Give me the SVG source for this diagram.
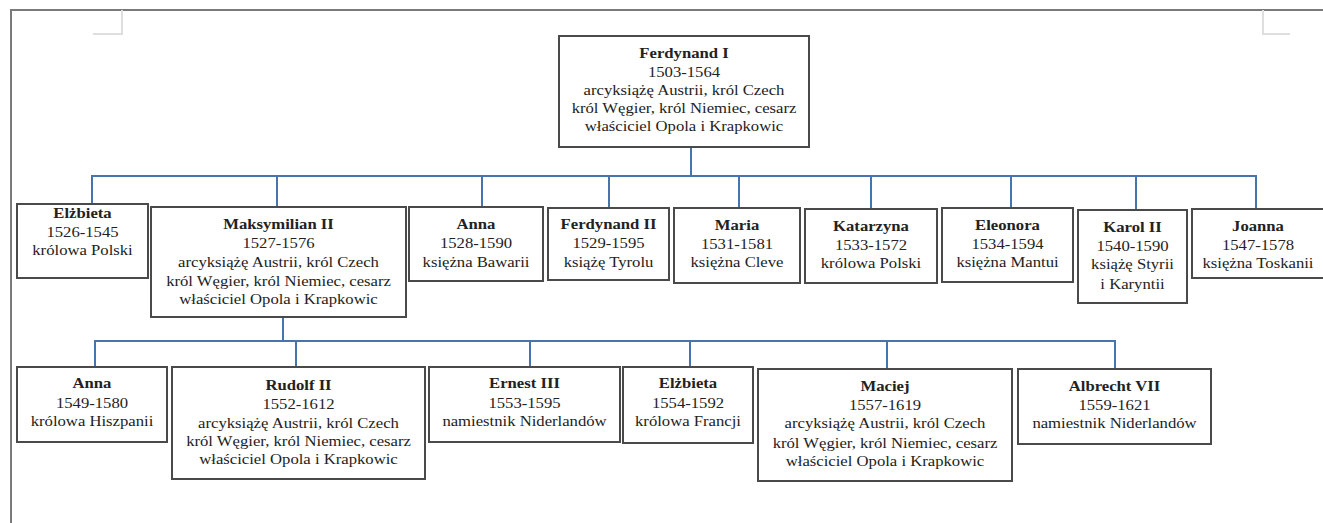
<svg xmlns="http://www.w3.org/2000/svg" width="1323" height="523" viewBox="0 0 1323 523">
<style>
.box{fill:#fff;stroke:#4a4a4a;stroke-width:2}
.conn{fill:none;stroke:#4675ad;stroke-width:2}
.frame{fill:none;stroke:#7a7a7a;stroke-width:2}
.mark{fill:none;stroke:#dedede;stroke-width:2}
text{font-family:"Liberation Serif","Times New Roman",serif;font-size:14.5px;fill:#222;text-anchor:middle}
.n{font-weight:bold}
</style>
<rect width="1323" height="523" fill="#fff"/>
<g id="frame">
<path class="frame" d="M11,523 V10 H1323"/>
<path class="mark" d="M122,10 V34 H93"/>
<path class="mark" d="M1263,10 V34 H1290"/>
</g>
<g id="connectors">
<path class="conn" d="M691,147 V176 M92,204 V176 H1256 V209 M277,176 V207 M482,176 V207 M609,176 V208 M739,176 V208 M871,176 V209 M1011,176 V208 M1136,176 V210"/>
<path class="conn" d="M283,317 V341 M95,367 V341 H1115 V369 M296,341 V367 M530,341 V367 M690,341 V367 M887,341 V369"/>
</g>
<g id="ferdynand1">
<rect class="box" x="559" y="36" width="250" height="111"/>
<g transform="translate(684,0) scale(1.15,1)">
<text class="n" x="0" y="58">Ferdynand I</text>
<text x="0" y="77">1503-1564</text>
<text x="0" y="95">arcyksiążę Austrii, król Czech</text>
<text x="0" y="113">król Węgier, król Niemiec, cesarz</text>
<text x="0" y="131">właściciel Opola i Krapkowic</text>
</g>
</g>
<g id="elzbieta1">
<rect class="box" x="17" y="204" width="131" height="74"/>
<g transform="translate(82.5,0) scale(1.15,1)">
<text class="n" x="0" y="218">Elżbieta</text>
<text x="0" y="237">1526-1545</text>
<text x="0" y="255">królowa Polski</text>
</g>
</g>
<g id="maksymilian2">
<rect class="box" x="151" y="207" width="255" height="110"/>
<g transform="translate(278.5,0) scale(1.15,1)">
<text class="n" x="0" y="229">Maksymilian II</text>
<text x="0" y="248">1527-1576</text>
<text x="0" y="267">arcyksiążę Austrii, król Czech</text>
<text x="0" y="286">król Węgier, król Niemiec, cesarz</text>
<text x="0" y="304">właściciel Opola i Krapkowic</text>
</g>
</g>
<g id="anna1">
<rect class="box" x="409" y="207" width="134" height="74"/>
<g transform="translate(476,0) scale(1.15,1)">
<text class="n" x="0" y="229">Anna</text>
<text x="0" y="248">1528-1590</text>
<text x="0" y="267">księżna Bawarii</text>
</g>
</g>
<g id="ferdynand2">
<rect class="box" x="548" y="208" width="121" height="72"/>
<g transform="translate(608.5,0) scale(1.15,1)">
<text class="n" x="0" y="229">Ferdynand II</text>
<text x="0" y="248">1529-1595</text>
<text x="0" y="267">książę Tyrolu</text>
</g>
</g>
<g id="maria">
<rect class="box" x="674" y="208" width="126" height="75"/>
<g transform="translate(737,0) scale(1.15,1)">
<text class="n" x="0" y="230">Maria</text>
<text x="0" y="249">1531-1581</text>
<text x="0" y="267">księżna Cleve</text>
</g>
</g>
<g id="katarzyna">
<rect class="box" x="805" y="209" width="132" height="74"/>
<g transform="translate(871,0) scale(1.15,1)">
<text class="n" x="0" y="231">Katarzyna</text>
<text x="0" y="250">1533-1572</text>
<text x="0" y="268">królowa Polski</text>
</g>
</g>
<g id="eleonora">
<rect class="box" x="942" y="208" width="131" height="74"/>
<g transform="translate(1007.5,0) scale(1.15,1)">
<text class="n" x="0" y="230">Eleonora</text>
<text x="0" y="249">1534-1594</text>
<text x="0" y="267">księżna Mantui</text>
</g>
</g>
<g id="karol2">
<rect class="box" x="1078" y="210" width="109" height="93"/>
<g transform="translate(1132.5,0) scale(1.15,1)">
<text class="n" x="0" y="232">Karol II</text>
<text x="0" y="251">1540-1590</text>
<text x="0" y="269">książę Styrii</text>
<text x="0" y="289">i Karyntii</text>
</g>
</g>
<g id="joanna">
<rect class="box" x="1192" y="209" width="134" height="69"/>
<g transform="translate(1258,0) scale(1.15,1)">
<text class="n" x="0" y="231">Joanna</text>
<text x="0" y="250">1547-1578</text>
<text x="0" y="268">księżna Toskanii</text>
</g>
</g>
<g id="anna2">
<rect class="box" x="17" y="367" width="150" height="75"/>
<g transform="translate(92,0) scale(1.15,1)">
<text class="n" x="0" y="388">Anna</text>
<text x="0" y="408">1549-1580</text>
<text x="0" y="426">królowa Hiszpanii</text>
</g>
</g>
<g id="rudolf2">
<rect class="box" x="172" y="367" width="253" height="112"/>
<g transform="translate(298.5,0) scale(1.15,1)">
<text class="n" x="0" y="390">Rudolf II</text>
<text x="0" y="409">1552-1612</text>
<text x="0" y="428">arcyksiążę Austrii, król Czech</text>
<text x="0" y="446">król Węgier, król Niemiec, cesarz</text>
<text x="0" y="464">właściciel Opola i Krapkowic</text>
</g>
</g>
<g id="ernest3">
<rect class="box" x="429" y="367" width="191" height="75"/>
<g transform="translate(524.5,0) scale(1.15,1)">
<text class="n" x="0" y="388">Ernest III</text>
<text x="0" y="408">1553-1595</text>
<text x="0" y="426">namiestnik Niderlandów</text>
</g>
</g>
<g id="elzbieta2">
<rect class="box" x="623" y="367" width="130" height="76"/>
<g transform="translate(688,0) scale(1.15,1)">
<text class="n" x="0" y="388">Elżbieta</text>
<text x="0" y="408">1554-1592</text>
<text x="0" y="426">królowa Francji</text>
</g>
</g>
<g id="maciej">
<rect class="box" x="758" y="369" width="254" height="112"/>
<g transform="translate(885,0) scale(1.15,1)">
<text class="n" x="0" y="391">Maciej</text>
<text x="0" y="410">1557-1619</text>
<text x="0" y="428">arcyksiążę Austrii, król Czech</text>
<text x="0" y="448">król Węgier, król Niemiec, cesarz</text>
<text x="0" y="466">właściciel Opola i Krapkowic</text>
</g>
</g>
<g id="albrecht7">
<rect class="box" x="1018" y="369" width="193" height="75"/>
<g transform="translate(1114.5,0) scale(1.15,1)">
<text class="n" x="0" y="391">Albrecht VII</text>
<text x="0" y="410">1559-1621</text>
<text x="0" y="428">namiestnik Niderlandów</text>
</g>
</g>
</svg>
